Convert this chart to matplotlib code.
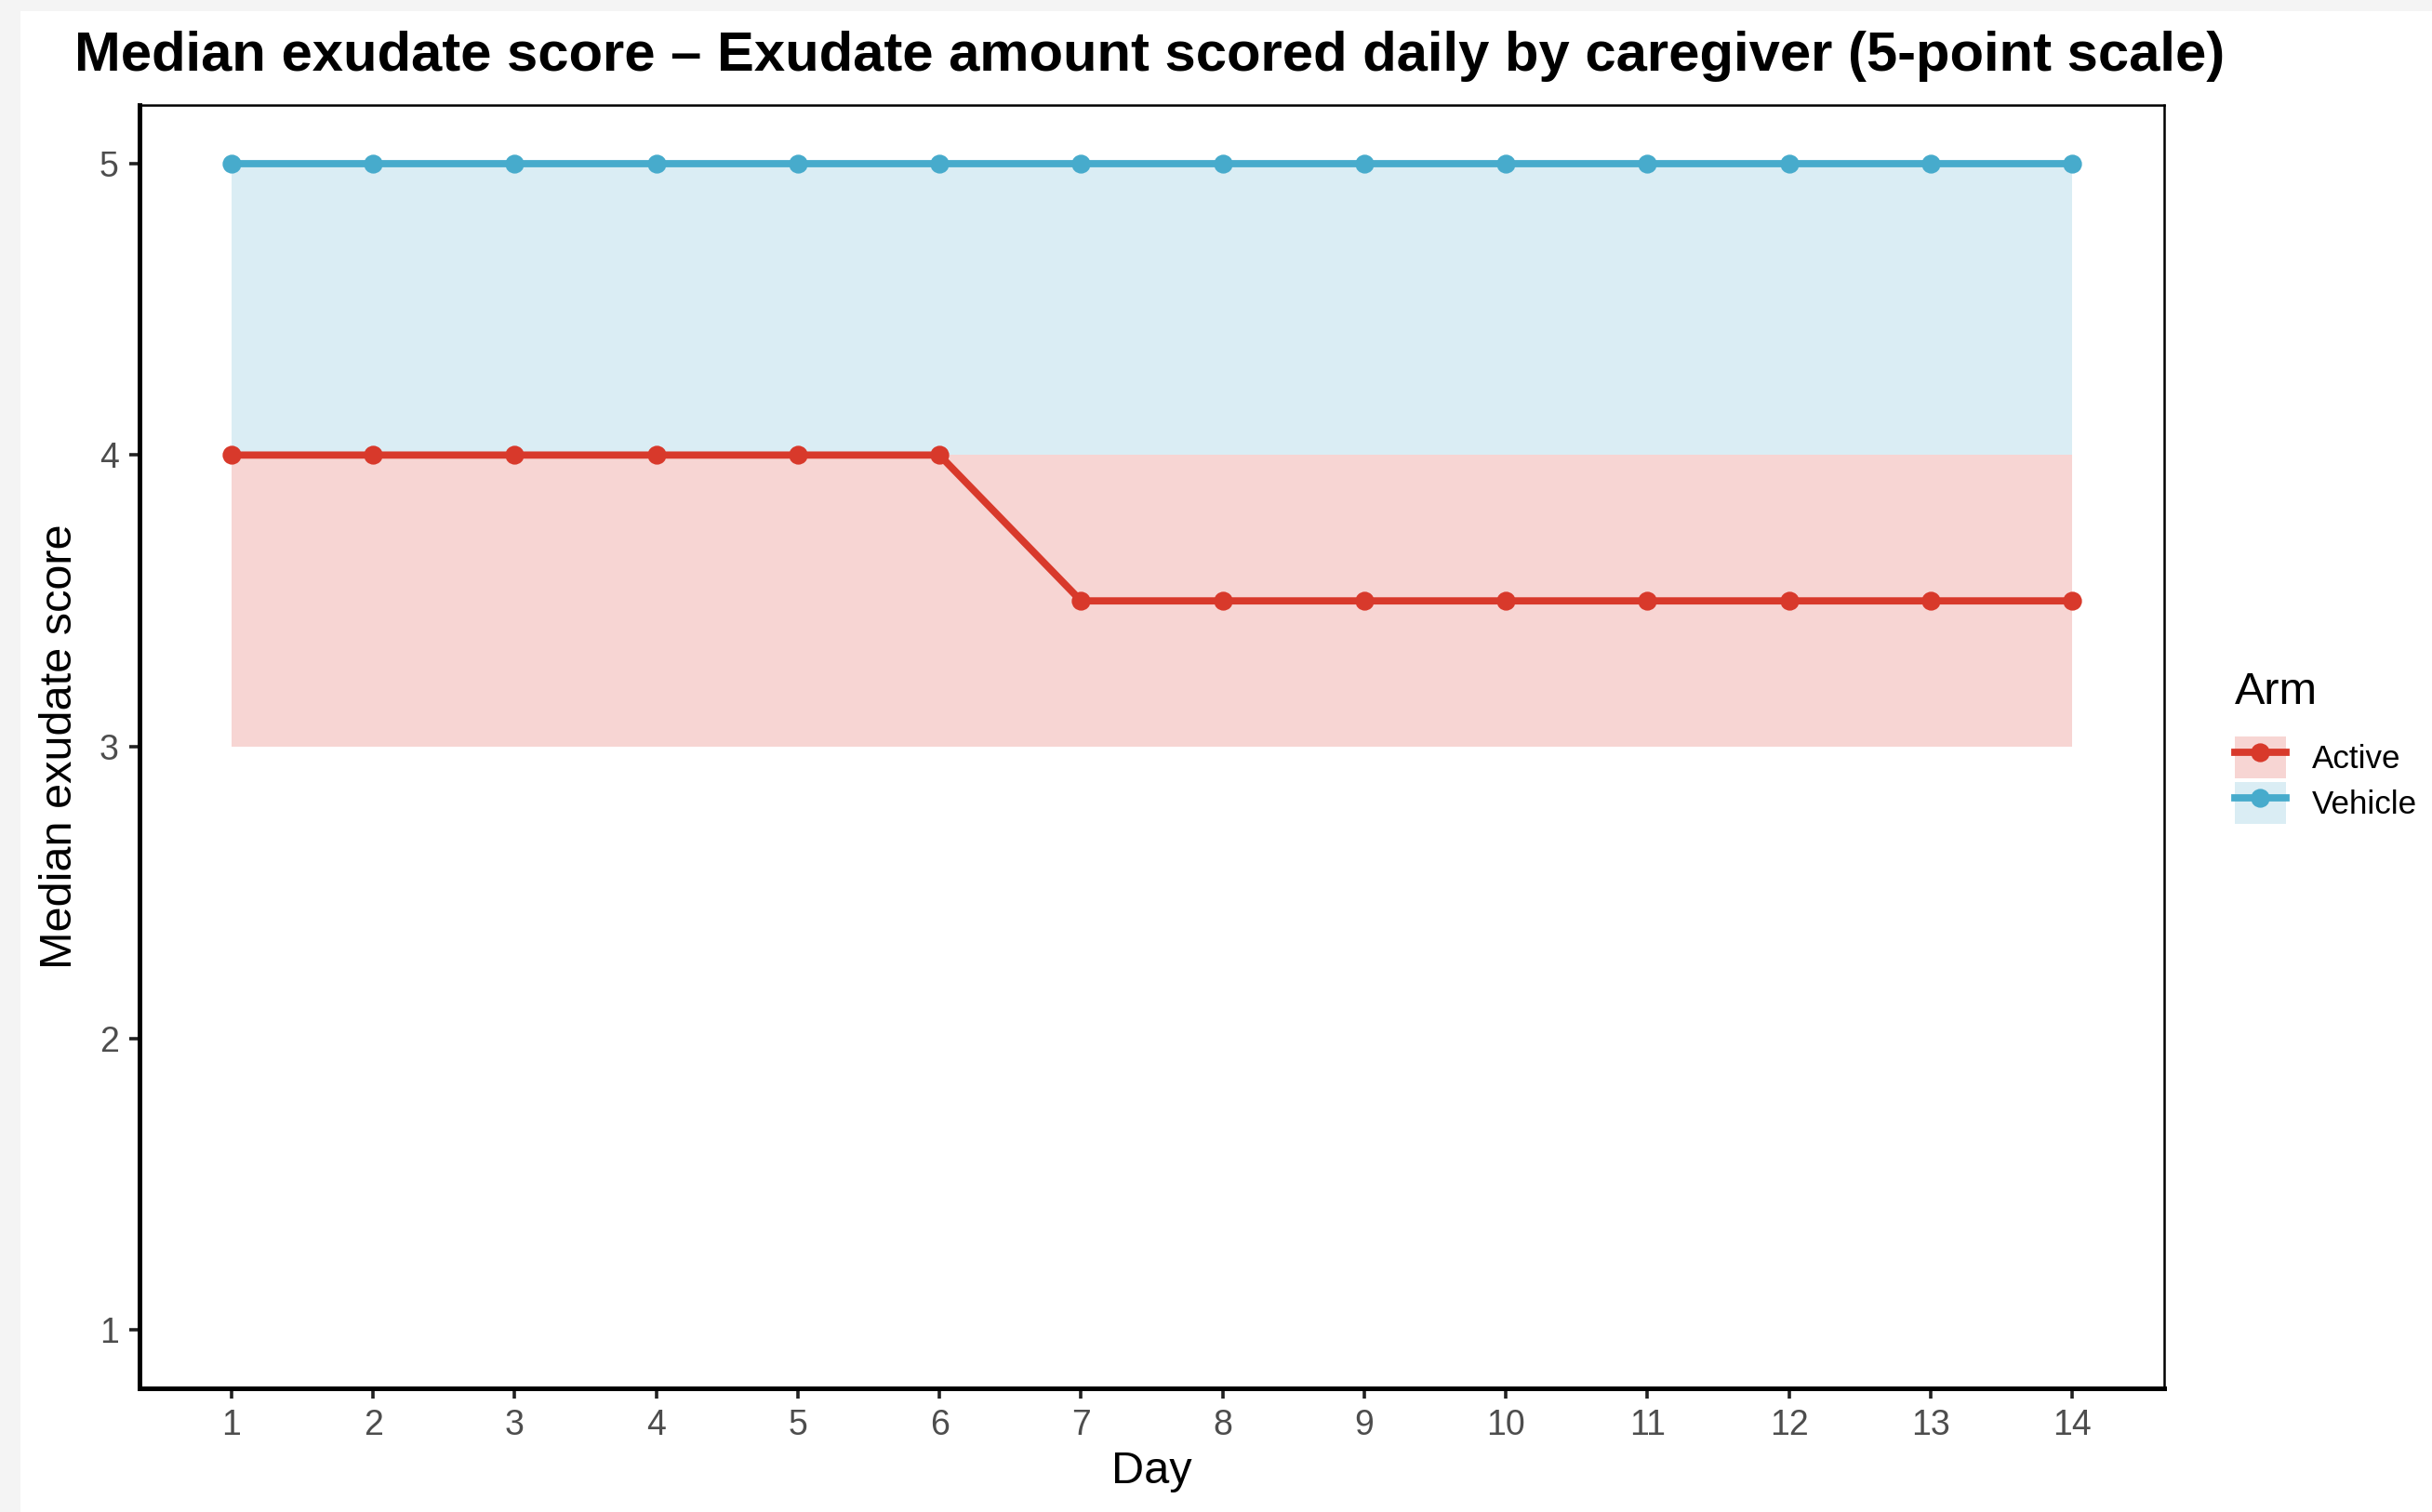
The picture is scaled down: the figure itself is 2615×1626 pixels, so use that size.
import numpy as np
import matplotlib
matplotlib.use('Agg')
import matplotlib.pyplot as plt
from matplotlib.patches import Patch, Rectangle
from matplotlib.lines import Line2D
from matplotlib.legend_handler import HandlerTuple

plt.rcParams['font.family'] = ['Liberation Sans', 'DejaVu Sans']

# data
days = list(range(1, 15))
active_median = [4, 4, 4, 4, 4, 4, 3.5, 3.5, 3.5, 3.5, 3.5, 3.5, 3.5, 3.5]
active_lower = [3] * 14
active_upper = [4] * 14
vehicle_median = [5] * 14
vehicle_lower = [4] * 14
vehicle_upper = [5] * 14
arms = ['Active', 'Vehicle']

red = '#D8392B'
blue = '#47ABCC'
red_fill = '#F7D5D3'
blue_fill = '#DAEDF4'

W, H = 2615, 1626
dpi = 200
fig = plt.figure(figsize=(W / dpi, H / dpi), dpi=dpi)
fig.patch.set_facecolor('#F4F4F4')
fig.patches.append(Rectangle((22 / W, 0), 1, 1 - 12 / H, transform=fig.transFigure,
                             facecolor='white', edgecolor='none', zorder=-10))

ax = fig.add_axes([150 / W, 1 - 1493 / H, (2327 - 150) / W, (1493 - 113) / H])

ax.fill_between(days, active_lower, active_upper, color=red_fill, lw=0, zorder=1)
ax.fill_between(days, vehicle_lower, vehicle_upper, color=blue_fill, lw=0, zorder=1)
ax.plot(days, active_median, color=red, lw=2.8, marker='o', ms=6.3, zorder=3)
ax.plot(days, vehicle_median, color=blue, lw=2.8, marker='o', ms=6.3, zorder=3)

ax.set_xlim(0.35, 14.65)
ax.set_ylim(0.8, 5.2)
ax.set_xticks(days)
ax.set_yticks([1, 2, 3, 4, 5])
ax.tick_params(axis='both', labelsize=13.5, labelcolor='#4D4D4D', color='#222222',
               length=4, width=1.3, pad=4)

for s in ['left', 'bottom']:
    ax.spines[s].set_linewidth(1.8)
for s in ['top', 'right']:
    ax.spines[s].set_linewidth(0.9)

ax.set_xlabel('Day', fontsize=17.5, labelpad=3)
ax.set_ylabel('Median exudate score', fontsize=17.5, labelpad=7)

fig.text(80 / W, 1 - 60 / H,
         'Median exudate score \u2013 Exudate amount scored daily by caregiver (5-point scale)',
         fontsize=21.5, fontweight='bold', ha='left', va='center')

handles = [
    (Patch(facecolor=red_fill, edgecolor='none'),
     Line2D([], [], color=red, lw=2.8, marker='o', ms=6.3)),
    (Patch(facecolor=blue_fill, edgecolor='none'),
     Line2D([], [], color=blue, lw=2.8, marker='o', ms=6.3)),
]
leg = fig.legend(handles, arms, title='Arm', loc='upper left',
                 bbox_to_anchor=(2403 / W, 1 - 722 / H), frameon=False,
                 fontsize=12.6, title_fontsize=17.5, handlelength=1.57, handleheight=1.6,
                 handletextpad=0.8, labelspacing=0.12, borderaxespad=0, borderpad=0,
                 handler_map={tuple: HandlerTuple(ndivide=1, pad=0)})
leg._legend_box.align = 'left'
leg._legend_box.sep = 9

fig.savefig('out.png', dpi=dpi, facecolor=fig.get_facecolor())
